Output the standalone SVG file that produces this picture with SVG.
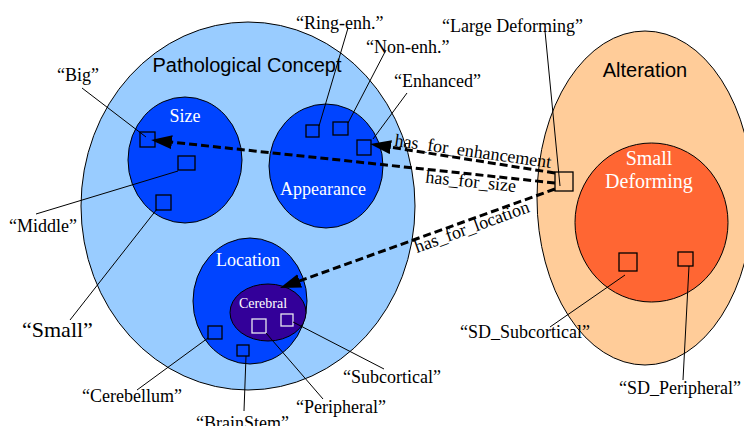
<svg xmlns="http://www.w3.org/2000/svg" width="744" height="426" viewBox="0 0 744 426">
  <defs>
    <style>
      .ring { stroke: #000; stroke-width: 1; }
      .outer { fill: #99CCFF; }
      .inner { fill: #0044FF; }
      .cereb { fill: #330099; }
      .alter { fill: #FFCC99; }
      .sd { fill: #FF6633; }
      .inst { fill: none; stroke: #000; stroke-width: 1.3; }
      .inst-w { fill: none; stroke: #E8E8F0; stroke-width: 1.3; }
      .lead { fill: none; stroke: #000; stroke-width: 1; }
      .rel { fill: none; stroke: #000; stroke-width: 3; stroke-dasharray: 8 4; marker-end: url(#head); }
      .sans { font-family: "Liberation Sans", Arial, sans-serif; font-size: 20px; fill: #000; }
      .serif { font-family: "Liberation Serif", "Times New Roman", serif; font-size: 18px; fill: #000; }
      .white { fill: #fff; }
    </style>
    <marker id="head" markerUnits="userSpaceOnUse" markerWidth="24" markerHeight="16" refX="13" refY="7" orient="auto">
      <path d="M0,0 L21,7 L0,14 Z" fill="#000"/>
    </marker>
  </defs>

  <!-- Pathological Concept -->
  <g id="pathological-concept">
    <ellipse class="ring outer" cx="248" cy="206" rx="167" ry="184"/>
    <text class="sans" x="247" y="72" text-anchor="middle">Pathological Concept</text>
  </g>

  <g id="size">
    <ellipse class="ring inner" cx="185" cy="160" rx="57" ry="63"/>
    <text class="serif white" x="185" y="122" text-anchor="middle">Size</text>
  </g>

  <g id="appearance">
    <ellipse class="ring inner" cx="326" cy="166" rx="57" ry="62"/>
    <text class="serif white" x="323" y="195" text-anchor="middle">Appearance</text>
  </g>

  <g id="location">
    <ellipse class="ring inner" cx="250" cy="301" rx="57" ry="63"/>
    <text class="serif white" x="248" y="266" text-anchor="middle">Location</text>
  </g>

  <g id="cerebral">
    <ellipse class="ring cereb" cx="268" cy="312.5" rx="38" ry="28.5"/>
    <text class="serif white" x="263" y="308" text-anchor="middle" style="font-size:14px">Cerebral</text>
  </g>

  <!-- Alteration -->
  <g id="alteration">
    <ellipse class="ring alter" cx="645" cy="198" rx="108" ry="167"/>
    <text class="sans" x="645" y="77" text-anchor="middle">Alteration</text>
  </g>

  <g id="small-deforming">
    <ellipse class="ring sd" cx="651.5" cy="222.5" rx="76.5" ry="79.5"/>
    <text class="serif white" x="649" y="165" text-anchor="middle" style="font-size:20px">Small</text>
    <text class="serif white" x="649" y="188" text-anchor="middle" style="font-size:20px">Deforming</text>
  </g>

  <!-- instances -->
  <g id="big">
    <rect class="inst" x="140" y="132" width="15" height="15"/>
    <line class="lead" x1="82" y1="88" x2="146" y2="137"/>
    <text class="serif" x="57" y="81">“Big”</text>
  </g>
  <g id="middle">
    <rect class="inst" x="178" y="156" width="17" height="14"/>
    <line class="lead" x1="36" y1="214" x2="178" y2="171"/>
    <text class="serif" x="9" y="232">“Middle”</text>
  </g>
  <g id="small">
    <rect class="inst" x="156" y="195" width="15" height="15"/>
    <line class="lead" x1="70" y1="320" x2="157" y2="209"/>
    <text class="serif" x="22" y="337" style="font-size:22px">“Small”</text>
  </g>
  <g id="ring-enh">
    <rect class="inst" x="306" y="125" width="13" height="12"/>
    <line class="lead" x1="348" y1="28" x2="319" y2="126"/>
    <text class="serif" x="296" y="29">“Ring-enh.”</text>
  </g>
  <g id="non-enh">
    <rect class="inst" x="333" y="122" width="15" height="13"/>
    <line class="lead" x1="386" y1="50" x2="348" y2="123"/>
    <text class="serif" x="366" y="53">“Non-enh.”</text>
  </g>
  <g id="enhanced">
    <rect class="inst" x="357" y="140" width="14" height="15"/>
    <line class="lead" x1="407" y1="93" x2="373" y2="139"/>
    <text class="serif" x="394" y="87">“Enhanced”</text>
  </g>
  <g id="large-deforming">
    <rect class="inst" x="555" y="172" width="18" height="19"/>
    <line class="lead" x1="545" y1="31" x2="560" y2="186"/>
    <text class="serif" x="442" y="32">“Large Deforming”</text>
  </g>
  <g id="cerebellum">
    <rect class="inst" x="208" y="326" width="14" height="13"/>
    <line class="lead" x1="137" y1="390" x2="208" y2="338"/>
    <text class="serif" x="82" y="402">“Cerebellum”</text>
  </g>
  <g id="brainstem">
    <rect class="inst" x="237" y="345" width="12" height="11"/>
    <line class="lead" x1="244" y1="411" x2="246" y2="356"/>
    <text class="serif" x="196" y="429">“BrainStem”</text>
  </g>
  <g id="peripheral">
    <rect class="inst-w" x="252" y="319" width="14" height="14"/>
    <line class="lead" x1="266" y1="333" x2="323" y2="399"/>
    <text class="serif" x="296" y="413">“Peripheral”</text>
  </g>
  <g id="subcortical">
    <rect class="inst-w" x="281" y="314" width="12" height="12"/>
    <line class="lead" x1="293" y1="322" x2="384" y2="369"/>
    <text class="serif" x="343" y="383">“Subcortical”</text>
  </g>
  <g id="sd-subcortical">
    <rect class="inst" x="619" y="253" width="18" height="18"/>
    <line class="lead" x1="550" y1="327" x2="625" y2="275"/>
    <text class="serif" x="460" y="338">“SD_Subcortical”</text>
  </g>
  <g id="sd-peripheral">
    <rect class="inst" x="678" y="252" width="15" height="14"/>
    <line class="lead" x1="683" y1="380" x2="689" y2="266"/>
    <text class="serif" x="619" y="394">“SD_Peripheral”</text>
  </g>

  <!-- relations -->
  <g id="connectors">
    <path class="rel" d="M555,173 L378,145.2"/>
    <path class="rel" d="M555,183 L159,140.8"/>
    <path class="rel" d="M555,189 L287.5,285.3"/>
    <text class="serif" transform="translate(394,146) rotate(8)">has_for_enhancement</text>
    <text class="serif" transform="translate(425,182.5) rotate(6)">has_for_size</text>
    <text class="serif" transform="translate(417,253) rotate(-20)">has_for_location</text>
  </g>
</svg>
